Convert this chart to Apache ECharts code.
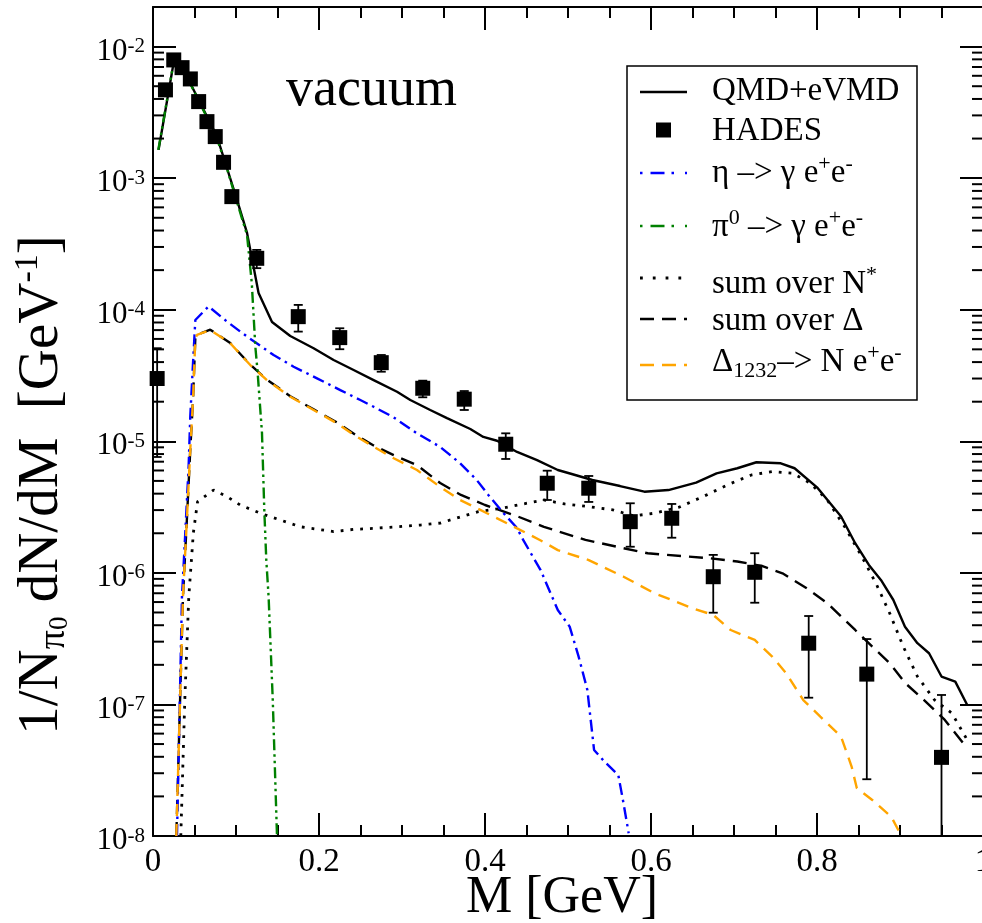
<!DOCTYPE html>
<html>
<head>
<meta charset="utf-8">
<script src="https://cdn.jsdelivr.net/npm/echarts@6/dist/echarts.min.js"></script>
<style>
  html, body { margin: 0; padding: 0; background: #fff; }
  #chart { width: 982px; height: 923px; }
</style>
</head>
<body>
<div id="chart"></div>
<script>
// Dielectron invariant-mass spectrum (vacuum case), log scale.
const FONT = 'Liberation Serif';

// HADES data points: mass [GeV], yield, lower/upper error bar ends (null = bar hidden by marker)
const hadesM  = [0.005, 0.015, 0.025, 0.035, 0.045, 0.055, 0.065, 0.075, 0.085, 0.095, 0.125, 0.175, 0.225, 0.275, 0.325, 0.375, 0.425, 0.475, 0.525, 0.575, 0.625, 0.675, 0.725, 0.79, 0.86, 0.95];
const hadesY  = [3.0e-5, 4.69e-3, 7.92e-3, 6.92e-3, 5.68e-3, 3.82e-3, 2.69e-3, 2.07e-3, 1.32e-3, 7.24e-4, 2.46e-4, 8.86e-5, 6.14e-5, 3.96e-5, 2.53e-5, 2.09e-5, 9.5e-6, 4.8e-6, 4.4e-6, 2.45e-6, 2.6e-6, 9.35e-7, 1.01e-6, 2.92e-7, 1.7e-7, 3.96e-8];
const hadesLo = [7.6e-6, null, null, null, null, null, null, null, null, null, 2.07e-4, 6.82e-5, 5.01e-5, 3.38e-5, 2.16e-5, 1.73e-5, 7.34e-6, 3.58e-6, 3.46e-6, 1.58e-6, 1.85e-6, 4.98e-7, 5.93e-7, 1.125e-7, 2.7e-8, 1e-9];
const hadesHi = [5.1e-5, null, null, null, null, null, null, null, null, null, 2.85e-4, 1.088e-4, 7.23e-5, 4.53e-5, 2.89e-5, 2.41e-5, 1.15e-5, 5.98e-6, 5.45e-6, 3.38e-6, 3.34e-6, 1.37e-6, 1.41e-6, 4.7e-7, 3.14e-7, 1.18e-7];

// Model curves: [M, dN/dM]
const qmdEvmd = [[0.0067,1.64e-3],[0.0248,7.5e-3],[0.0369,6.65e-3],[0.0549,3.94e-3],[0.0771,2.07e-3],[0.0871,1.31e-3],[0.1012,6.83e-4],[0.1133,3.84e-4],[0.1272,1.34e-4],[0.1434,8.07e-5],[0.1654,6.32e-5],[0.1935,5.1e-5],[0.2176,4.15e-5],[0.2417,3.48e-5],[0.2658,2.92e-5],[0.294,2.38e-5],[0.31,2.06e-5],[0.334,1.73e-5],[0.3542,1.5e-5],[0.3823,1.24e-5],[0.398,1.08e-5],[0.4145,1.01e-5],[0.4386,8.3e-6],[0.4627,7.2e-6],[0.4877,6.05e-6],[0.5045,5.64e-6],[0.5293,5.08e-6],[0.5627,4.57e-6],[0.592,4.14e-6],[0.621,4.26e-6],[0.6543,4.85e-6],[0.679,5.71e-6],[0.704,6.24e-6],[0.727,6.93e-6],[0.7564,6.81e-6],[0.773,6.24e-6],[0.8,4.47e-6],[0.829,2.68e-6],[0.846,1.68e-6],[0.8625,1.15e-6],[0.877,8.83e-7],[0.892,6.22e-7],[0.906,3.9e-7],[0.921,2.92e-7],[0.935,2.45e-7],[0.95,1.63e-7],[0.9666,1.49e-7],[0.981,9.9e-8]];

const etaDalitz = [[0.0289,1e-8],[0.0349,6.59e-7],[0.0389,2.01e-6],[0.0429,6.41e-6],[0.0449,1.54e-5],[0.0482,3.92e-5],[0.051,8.36e-5],[0.067,1.06e-4],[0.0892,8.12e-5],[0.1133,6.25e-5],[0.1453,4.53e-5],[0.1694,3.69e-5],[0.1976,3.01e-5],[0.2257,2.45e-5],[0.2498,2.06e-5],[0.2658,1.83e-5],[0.29,1.52e-5],[0.318,1.15e-5],[0.346,9.06e-6],[0.37,6.81e-6],[0.39,5.08e-6],[0.404,3.91e-6],[0.4224,2.84e-6],[0.4386,2.19e-6],[0.446,1.78e-6],[0.467,1.05e-6],[0.4877,5.22e-7],[0.502,3.9e-7],[0.5128,2.31e-7],[0.5233,1.29e-7],[0.5314,4.51e-8],[0.544,3.67e-8],[0.5606,2.91e-8],[0.5669,1.77e-8],[0.5731,1.05e-8]];

const pi0Dalitz = [[0.0064,1.64e-3],[0.0248,7.6e-3],[0.0365,6.7e-3],[0.0546,3.94e-3],[0.0763,2.06e-3],[0.087,1.31e-3],[0.1004,6.83e-4],[0.1133,3.7e-4],[0.119,1.6e-4],[0.1233,5.24e-5],[0.126,3.38e-5],[0.1313,1.16e-5],[0.1341,3.0e-6],[0.1365,1.25e-6],[0.1393,6.55e-7],[0.1443,1.08e-7],[0.1494,1.0e-8]];

const sumNstar = [[0.0335,1e-8],[0.0383,1.08e-7],[0.0431,6.56e-7],[0.0486,2.01e-6],[0.0537,3.48e-6],[0.073,4.26e-6],[0.0892,3.8e-6],[0.105,3.28e-6],[0.1293,2.84e-6],[0.1534,2.52e-6],[0.1775,2.24e-6],[0.2176,2.06e-6],[0.2417,2.14e-6],[0.2658,2.18e-6],[0.294,2.24e-6],[0.322,2.31e-6],[0.346,2.39e-6],[0.371,2.67e-6],[0.392,2.92e-6],[0.421,3.1e-6],[0.446,3.34e-6],[0.471,3.58e-6],[0.496,3.34e-6],[0.525,3.19e-6],[0.554,3.01e-6],[0.579,2.71e-6],[0.604,2.84e-6],[0.6335,3.15e-6],[0.6627,3.8e-6],[0.692,4.66e-6],[0.721,5.55e-6],[0.746,5.88e-6],[0.771,5.71e-6],[0.792,4.8e-6],[0.8124,3.58e-6],[0.8334,2.24e-6],[0.854,1.33e-6],[0.871,8.34e-7],[0.8876,4.93e-7],[0.904,2.75e-7],[0.921,1.63e-7],[0.9417,1.08e-7],[0.9625,8.57e-8],[0.981,5.37e-8]];

const sumDelta = [[0.0281,1e-8],[0.0361,6.6e-7],[0.041,2.68e-6],[0.0449,8.6e-6],[0.0482,2.07e-5],[0.051,6.1e-5],[0.053,6.45e-5],[0.069,7.05e-5],[0.0931,5.58e-5],[0.1172,3.82e-5],[0.1373,2.94e-5],[0.1654,2.2e-5],[0.1935,1.75e-5],[0.2217,1.39e-5],[0.2458,1.1e-5],[0.2658,9.3e-6],[0.29,7.85e-6],[0.318,6.59e-6],[0.346,4.82e-6],[0.371,3.91e-6],[0.4,3.28e-6],[0.4377,2.71e-6],[0.471,2.24e-6],[0.521,1.78e-6],[0.567,1.54e-6],[0.596,1.41e-6],[0.6377,1.34e-6],[0.671,1.29e-6],[0.704,1.22e-6],[0.7335,1.13e-6],[0.7584,9.93e-7],[0.7876,7.64e-7],[0.8125,5.88e-7],[0.846,3.68e-7],[0.8666,2.75e-7],[0.8876,2.06e-7],[0.9064,1.45e-7],[0.929,1.08e-7],[0.954,7.62e-8],[0.981,4.65e-8]];

const delta1232 = [[0.0281,1e-8],[0.0361,6.59e-7],[0.041,2.67e-6],[0.0449,8.6e-6],[0.0482,2.06e-5],[0.051,6.07e-5],[0.053,6.43e-5],[0.069,7.02e-5],[0.0931,5.56e-5],[0.1172,3.8e-5],[0.1373,2.92e-5],[0.1654,2.18e-5],[0.1935,1.73e-5],[0.2217,1.37e-5],[0.2458,1.08e-5],[0.2658,9.1e-6],[0.29,7.43e-6],[0.318,6.05e-6],[0.346,4.5e-6],[0.37,3.58e-6],[0.4024,2.84e-6],[0.4386,2.18e-6],[0.4666,1.77e-6],[0.4877,1.49e-6],[0.525,1.25e-6],[0.5669,9.35e-7],[0.6043,7.0e-7],[0.65,5.38e-7],[0.675,4.79e-7],[0.696,3.68e-7],[0.725,3.09e-7],[0.746,2.31e-7],[0.7627,1.73e-7],[0.7835,1.08e-7],[0.804,8.08e-8],[0.829,5.69e-8],[0.8417,3.37e-8],[0.848,2.31e-8],[0.8666,1.88e-8],[0.8895,1.4e-8],[0.9,1.05e-8],[0.902,1e-8]];

// Axis ranges and tick layout
const xRange = [0, 1];
const xMajorStep = 0.2;
const yRange = [1e-8, 0.02];
const minorMantissas = [2, 3, 4, 5, 6, 7, 8, 9];
const minorDecades = [-8, -7, -6, -5, -4, -3, -2];

const minorTickValues = [];
minorDecades.forEach(d => minorMantissas.forEach(m => {
  const v = m * Math.pow(10, d);
  if (v < yRange[1] * 0.999) minorTickValues.push([0, v]);
}));

const hadesPoints = hadesM.map((m, i) => [m, hadesY[i]]);
const hadesBars = [];
hadesM.forEach((m, i) => { if (hadesLo[i] != null) hadesBars.push([m, hadesLo[i], hadesHi[i]]); });

const chart = echarts.init(document.getElementById('chart'), null, { renderer: 'canvas' });

const GRID = { left: 153, top: 7, width: 830, height: 829, outerBoundsMode: 'none', containLabel: false };
const TICK_MAJOR = 23, TICK_MINOR = 11;
const LW = 2.4;

function xAxisDef(pos, showLabels) {
  return {
    type: 'value', position: pos, min: xRange[0], max: xRange[1], interval: xMajorStep,
    axisLine: { show: true, onZero: false, lineStyle: { color: '#000', width: 2 } },
    axisTick: { show: true, inside: true, length: TICK_MAJOR, lineStyle: { color: '#000', width: 2 } },
    minorTick: { show: true, splitNumber: 4, length: TICK_MINOR, lineStyle: { color: '#000', width: 2 } },
    splitLine: { show: false },
    axisLabel: { show: showLabels, margin: 10, color: '#000', fontFamily: FONT, fontSize: 33, hideOverlap: false }
  };
}

function yAxisDef(pos, showLabels) {
  return {
    type: 'log', logBase: 10, position: pos, min: yRange[0], max: yRange[1],
    axisLine: { show: true, onZero: false, lineStyle: { color: '#000', width: 2 } },
    axisTick: { show: true, inside: true, length: TICK_MAJOR, lineStyle: { color: '#000', width: 2 } },
    minorTick: { show: false },
    splitLine: { show: false },
    axisLabel: {
      show: showLabels, margin: 8, color: '#000', fontFamily: FONT,
      padding: [10, 0, 0, 0],
      formatter: function (v) {
        const e = Math.log10(v);
        const r = Math.round(e);
        if (Math.abs(e - r) > 1e-6) return '';
        return '{b|10}{s|' + r + '}';
      },
      rich: {
        b: { fontFamily: FONT, fontSize: 31, lineHeight: 31, verticalAlign: 'bottom', color: '#000' },
        s: { fontFamily: FONT, fontSize: 21, lineHeight: 21, verticalAlign: 'top', padding: [0, 0, 22, 0], color: '#000' }
      }
    }
  };
}

function curve(name, data, color, dash, width, z) {
  return {
    name: name, type: 'line', data: data, showSymbol: false, symbol: 'none',
    xAxisIndex: 0, yAxisIndex: 0, clip: true, z: z || 3,
    lineStyle: { color: color, width: width || LW, type: dash, cap: 'butt' },
    emphasis: { disabled: true }, silent: true, animation: false
  };
}

// Legend entries (drawn as a boxed key in the upper right)
const LX0 = 640, LX1 = 687, TX = 712;
const legendFont = { fontFamily: FONT, fontSize: 33, fill: '#000' };
const legendRich = {
  t: { fontFamily: FONT, fontSize: 33, lineHeight: 40, verticalAlign: 'middle' },
  sp: { fontFamily: FONT, fontSize: 22, lineHeight: 14, verticalAlign: 'top' },
  sb: { fontFamily: FONT, fontSize: 22, lineHeight: 4, verticalAlign: 'bottom' }
};
function legendLine(y, color, dash, width) {
  return { type: 'line', shape: { x1: LX0, y1: y, x2: LX1, y2: y },
           style: { stroke: color, lineWidth: width || LW, lineDash: dash } };
}
function legendText(y, text) {
  return { type: 'text', x: TX, y: y,
           style: Object.assign({ text: text, align: 'left', verticalAlign: 'middle', rich: legendRich }, legendFont) };
}

const option = {
  backgroundColor: '#fff',
  animation: false,
  grid: GRID,
  xAxis: [xAxisDef('bottom', true), xAxisDef('top', false)],
  yAxis: [yAxisDef('left', true), yAxisDef('right', false)],
  series: [
    // minor ticks (2..9 in each decade) on left and right y axes
    {
      type: 'custom', silent: true, clip: false, z: 10,
      xAxisIndex: 0, yAxisIndex: 0,
      data: minorTickValues,
      renderItem: function (params, api) {
        const v = api.value(1);
        const pl = api.coord([xRange[0], v]);
        const pr = api.coord([xRange[1], v]);
        const st = { stroke: '#000', lineWidth: 2 };
        return { type: 'group', children: [
          { type: 'line', shape: { x1: pl[0], y1: pl[1], x2: pl[0] + TICK_MINOR, y2: pl[1] }, style: st },
          { type: 'line', shape: { x1: pr[0] - TICK_MINOR, y1: pr[1], x2: pr[0], y2: pr[1] }, style: st }
        ] };
      }
    },
    curve('sum over Δ', sumDelta, '#000', [14, 8], LW, 3),
    curve('Δ1232 -> N e+e-', delta1232, '#ffa500', [12, 8], LW, 4),
    curve('sum over N*', sumNstar, '#000', [2.8, 7], 2.8, 3),
    curve('η -> γ e+e-', etaDalitz, '#0000ff', [12, 5, 2.5, 5], LW, 3),
    curve('QMD+eVMD', qmdEvmd, '#000', 'solid', LW, 4),
    curve('π0 -> γ e+e-', pi0Dalitz, '#008000', [11, 4, 2.5, 4, 2.5, 4], LW, 5),
    // HADES error bars
    {
      type: 'custom', name: 'HADES errors', silent: true, clip: true, z: 6,
      xAxisIndex: 0, yAxisIndex: 0,
      data: hadesBars,
      renderItem: function (params, api) {
        const m = api.value(0);
        const lo = api.coord([m, api.value(1)]);
        const hi = api.coord([m, api.value(2)]);
        const hw = 4.5;
        const st = { stroke: '#000', lineWidth: 1.8 };
        return { type: 'group', children: [
          { type: 'line', shape: { x1: lo[0], y1: lo[1], x2: hi[0], y2: hi[1] }, style: st },
          { type: 'line', shape: { x1: lo[0] - hw, y1: lo[1], x2: lo[0] + hw, y2: lo[1] }, style: st },
          { type: 'line', shape: { x1: hi[0] - hw, y1: hi[1], x2: hi[0] + hw, y2: hi[1] }, style: st }
        ] };
      }
    },
    {
      name: 'HADES', type: 'scatter', data: hadesPoints, symbol: 'rect', symbolSize: 15,
      itemStyle: { color: '#000', opacity: 1 }, z: 7, silent: true, clip: true
    }
  ],
  graphic: [
    // y-axis title
    {
      type: 'text', x: 42, y: 485, rotation: Math.PI / 2,
      style: {
        text: '{a|1/N}{sb|π}{s0|0}{a| dN/dM  [GeV}{sp|-1}{a|]}',
        align: 'center', verticalAlign: 'middle', fill: '#000',
        rich: {
          a: { fontFamily: FONT, fontSize: 57, lineHeight: 62, verticalAlign: 'middle' },
          sb: { fontFamily: FONT, fontSize: 38, lineHeight: 8, verticalAlign: 'bottom' },
          s0: { fontFamily: FONT, fontSize: 27, lineHeight: 44, verticalAlign: 'bottom' },
          sp: { fontFamily: FONT, fontSize: 34, lineHeight: 20, verticalAlign: 'top' }
        }
      }
    },
    // x-axis title
    {
      type: 'text', x: 562, y: 898,
      style: { text: 'M [GeV]', align: 'center', verticalAlign: 'middle', fontFamily: FONT, fontSize: 52, fill: '#000' }
    },
    // panel label
    {
      type: 'text', x: 286, y: 91,
      style: { text: 'vacuum', align: 'left', verticalAlign: 'middle', fontFamily: FONT, fontSize: 54, fill: '#000' }
    },
    // legend
    {
      type: 'group', children: [
        { type: 'rect', shape: { x: 627, y: 66, width: 290, height: 334 }, style: { fill: '#fff', stroke: '#000', lineWidth: 1.5 } },
        legendLine(92, '#000', null, LW),
        legendText(91, '{t|QMD+eVMD}'),
        { type: 'rect', shape: { x: 656, y: 122.5, width: 15, height: 15 }, style: { fill: '#000' } },
        legendText(131, '{t|HADES}'),
        legendLine(173, '#0000ff', [2.5, 8, 14, 7, 2.5, 11, 2.5, 20], LW),
        legendText(173, '{t|η –> γ e}{sp|+}{t|e}{sp|-}'),
        legendLine(226, '#008000', [2.5, 8, 14, 7, 2.5, 11, 2.5, 20], LW),
        legendText(227, '{t|π}{sp|0}{t| –> γ e}{sp|+}{t|e}{sp|-}'),
        legendLine(278, '#000', [2.8, 10], 2.8),
        legendText(284, '{t|sum over N}{sp|*}'),
        legendLine(319, '#000', [14, 8], LW),
        legendText(321, '{t|sum over Δ}'),
        legendLine(365, '#ffa500', [14, 8], LW),
        legendText(362, '{t|Δ}{sb|1232}{t|–> N e}{sp|+}{t|e}{sp|-}')
      ]
    }
  ]
};

chart.setOption(option);
</script>
</body>
</html>
